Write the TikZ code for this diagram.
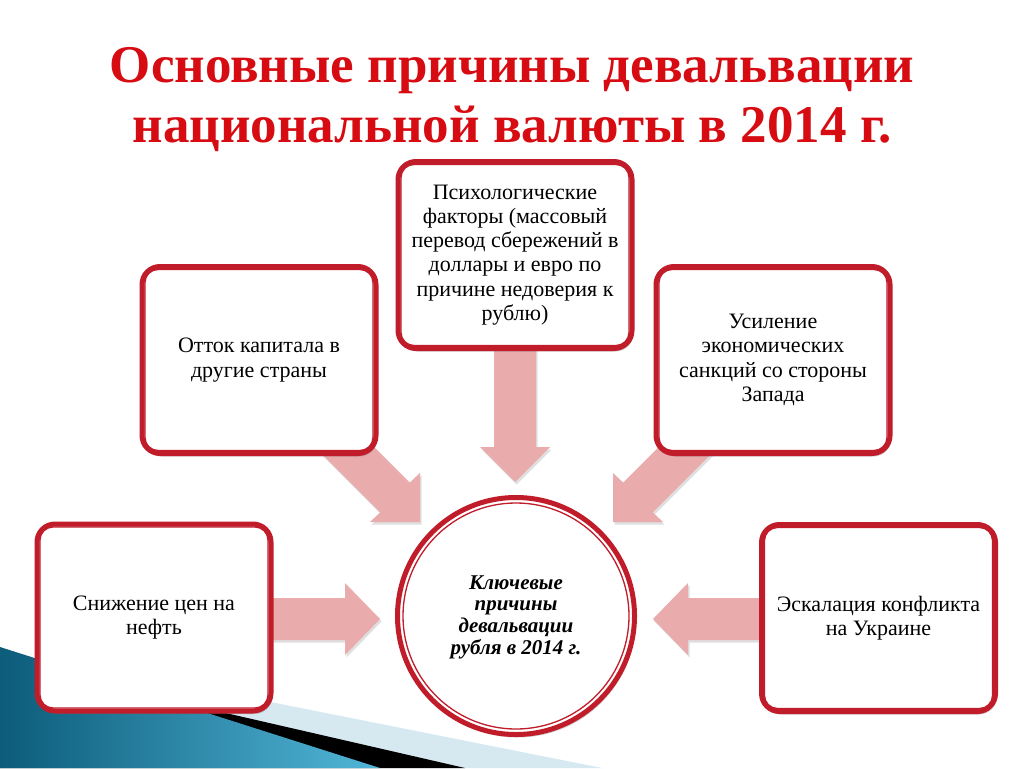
\documentclass[tikz,border=0pt]{standalone}
\usepackage{fontspec}
\setmainfont{Liberation Serif}
\usetikzlibrary{shadows,calc}
\definecolor{titlered}{RGB}{214,12,18}
\definecolor{boxred}{RGB}{192,28,42}
\definecolor{arrowpink}{RGB}{233,171,172}
\definecolor{paleblue}{RGB}{214,232,240}
\definecolor{tealdark}{RGB}{12,92,122}
\definecolor{teallight}{RGB}{82,182,216}
\begin{document}
\begin{tikzpicture}[x=1pt,y=-1pt,
  causebox/.style={draw=boxred, line width=5pt, fill=white, rounded corners=18pt,
    minimum width=234pt, minimum height=187pt, align=center, inner sep=0pt,
    font=\fontsize{22}{24.3}\selectfont,
    drop shadow={shadow xshift=1.5pt, shadow yshift=-3pt, opacity=0.35, fill=black!55}},
  keycircle/.style={circle, draw=boxred, line width=5pt, fill=white, minimum size=237pt,
    inner sep=0pt,
    drop shadow={shadow xshift=1.5pt, shadow yshift=-3pt, opacity=0.35, fill=black!55}},
  innerline/.style={draw=boxred, line width=1.3pt, rounded corners=13pt},
  blockarrow/.style={fill=arrowpink,
    drop shadow={shadow xshift=1.5pt, shadow yshift=-2.5pt, opacity=0.25, fill=black!50}},
  titlefont/.style={font=\fontsize{53}{60}\selectfont\bfseries, text=titlered, anchor=base, inner sep=0pt}
]
\useasboundingbox (0,0) rectangle (1024,768);
\fill[white] (0,0) rectangle (1024,768);

% background bands
\fill[paleblue] (150,678) -- (602,768) -- (0,768) -- cycle;
\fill[black] (150,695.6) -- (465,768) -- (0,768) -- cycle;
\shade[left color=tealdark, right color=teallight] (0,647) -- (380,768) -- (0,768) -- cycle;

% title
\node[titlefont] (title1) at (512,82) {Основные причины девальвации};
\node[titlefont] (title2) at (512,142) {национальной валюты в 2014 г.};

% block arrows
\fill[blockarrow] (270,598) -- (345,598) -- (345,583) -- (380,619) -- (345,655) -- (345,640) -- (270,640) -- cycle;
\fill[blockarrow] (760,598) -- (688,598) -- (688,583) -- (653,619) -- (688,655) -- (688,640) -- (760,640) -- cycle;
\fill[blockarrow] (494,345) -- (494,447) -- (480,447) -- (515,482) -- (550,447) -- (536,447) -- (536,345) -- cycle;
\fill[blockarrow] (319.8,392.6) -- (409.8,482.6) -- (420,473) -- (420,522) -- (370,522) -- (380.2,512.4) -- (290.2,422.4) -- cycle;
\fill[blockarrow] (713.2,392.6) -- (623.2,482.6) -- (613,473) -- (613,522) -- (663,522) -- (652.8,512.4) -- (742.8,422.4) -- cycle;

% cause boxes
\node[causebox] (psych) at (515,255) {Психологические\\факторы (массовый\\перевод сбережений в\\доллары и евро по\\причине недоверия к\\рублю)};
\node[causebox] (capital) at (259,360) {Отток капитала в\\другие страны};
\node[causebox] (sanctions) at (773,360) {Усиление\\экономических\\санкций со стороны\\Запада};
\node[causebox] (oil) at (154,617.5) {Снижение цен на\\нефть};
\node[causebox] (ukraine) at (878.5,618) {Эскалация конфликта\\на Украине};
\foreach \n in {psych,capital,sanctions,oil,ukraine}{
  \draw[innerline] ([xshift=5.5pt,yshift=-5.5pt]\n.north west) rectangle ([xshift=-5.5pt,yshift=5.5pt]\n.south east);
}

% central circle
\node[keycircle] (key) at (516,616) {};
\draw[boxred, line width=1.3pt] (key.center) circle (113pt);
\node[font=\fontsize{21}{21.7}\selectfont\bfseries\itshape, align=center] (keytext) at (516,617) {Ключевые\\причины\\девальвации\\рубля в 2014 г.};
\end{tikzpicture}
\end{document}
